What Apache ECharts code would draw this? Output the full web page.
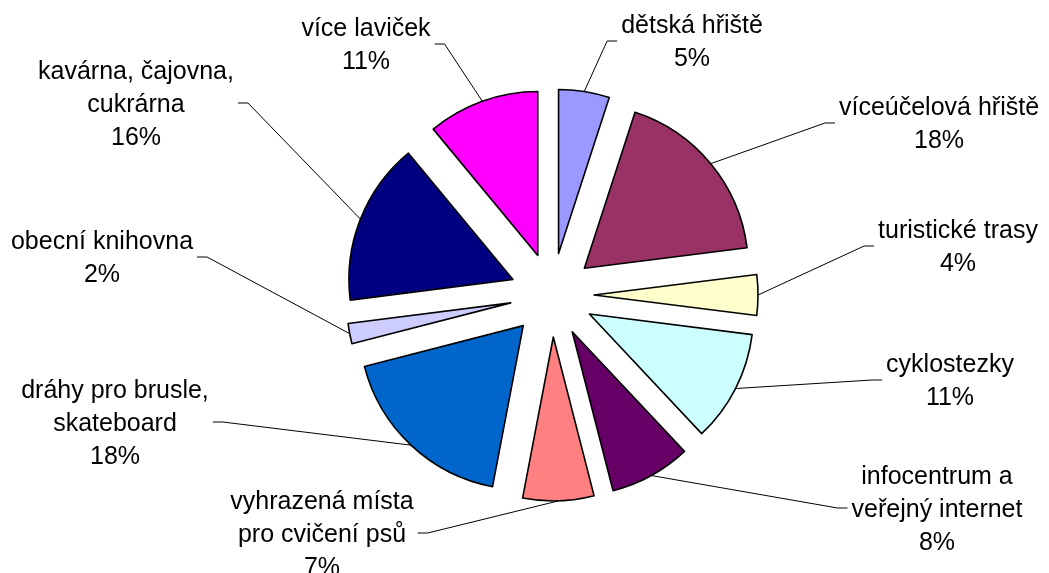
<!DOCTYPE html>
<html>
<head>
<meta charset="UTF-8">
<title>Pie chart</title>
<script src="https://cdn.jsdelivr.net/npm/echarts@6/dist/echarts.min.js"></script>
<style>
    html, body { margin: 0; padding: 0; background: #ffffff; }
    #chart { width: 1049px; height: 573px; }
</style>
</head>
<body>
<div id="chart"></div>
<script>
    var categories = ['dětská hřiště', 'víceúčelová hřiště', 'turistické trasy', 'cyklostezky',
        'infocentrum a\nveřejný internet', 'vyhrazená místa\npro cvičení psů',
        'dráhy pro brusle,\nskateboard', 'obecní knihovna', 'kavárna, čajovna,\ncukrárna', 'více laviček'];
    var values = [5, 18, 4, 11, 8, 7, 18, 2, 16, 11];
    var colors = ['#9999FF', '#993366', '#FFFFCC', '#CCFFFF', '#660066',
        '#FF8080', '#0066CC', '#CCCCFF', '#000080', '#FF00FF'];

    // where each label block is centred (px)
    var labelPos = [[692, 41], [939, 123], [958, 246], [950, 380], [937, 508],
        [322, 533], [115, 422], [102, 257], [136, 103], [366, 44]];

    var explode = 42;
    var chart = echarts.init(document.getElementById('chart'));

    // the exploded slices
    var sliceData = categories.map(function (name, i) {
        return { name: name, value: values[i], selected: true, itemStyle: { color: colors[i] } };
    });
    // same pie, invisible, only carries the labels (select state would move them back)
    var labelData = categories.map(function (name, i) {
        return { name: name, value: values[i] };
    });

    chart.setOption({
        animation: false,
        series: [{
            type: 'pie',
            center: [552, 295],
            radius: 164,
            startAngle: 90,
            clockwise: true,
            selectedMode: 'multiple',
            selectedOffset: explode,
            itemStyle: { borderColor: '#000000', borderWidth: 1.6 },
            select: { itemStyle: { borderColor: '#000000', borderWidth: 1.6 } },
            emphasis: { disabled: true },
            label: { show: false },
            labelLine: { show: false },
            data: sliceData
        }, {
            type: 'pie',
            center: [552, 295],
            radius: 164,
            startAngle: 90,
            clockwise: true,
            silent: true,
            avoidLabelOverlap: false,
            itemStyle: { color: 'rgba(0,0,0,0)', borderWidth: 0 },
            emphasis: { disabled: true },
            label: {
                show: true,
                position: 'outside',
                color: '#000000',
                fontFamily: 'Liberation Sans, Arial, sans-serif',
                fontSize: 25,
                lineHeight: 33,
                formatter: function (p) {
                    return p.name + '\n' + Math.round(p.percent) + '%';
                }
            },
            labelLine: {
                show: true,
                length: 20,
                length2: 10,
                lineStyle: { color: '#000000', width: 1 }
            },
            labelLayout: function (p) {
                var pos = labelPos[p.dataIndex];
                var a = p.labelLinePoints[0], b = p.labelLinePoints[1];
                // first default segment runs along the bisector: push start out by the explode offset
                var len = Math.sqrt((b[0] - a[0]) * (b[0] - a[0]) + (b[1] - a[1]) * (b[1] - a[1]));
                var sx = a[0] + (b[0] - a[0]) / len * explode;
                var sy = a[1] + (b[1] - a[1]) / len * explode;
                var w = p.labelRect.width;
                var right = pos[0] > sx;
                var ex = right ? pos[0] - w / 2 - 4 : pos[0] + w / 2 + 4;
                var bx = right ? ex - 10 : ex + 10;
                return {
                    x: pos[0],
                    y: pos[1] + 2,
                    align: 'center',
                    verticalAlign: 'middle',
                    labelLinePoints: [[sx, sy], [bx, pos[1]], [ex, pos[1]]]
                };
            },
            data: labelData
        }]
    });
</script>
</body>
</html>
